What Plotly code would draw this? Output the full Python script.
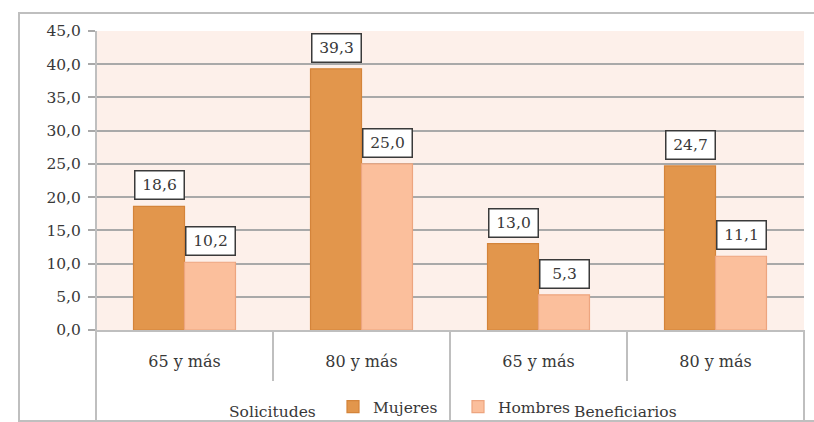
import plotly.graph_objects as go

groups = ["Solicitudes", "Beneficiarios"]
age_labels = ["65 y más", "80 y más", "65 y más", "80 y más"]
mujeres = [18.6, 39.3, 13.0, 24.7]
hombres = [10.2, 25.0, 5.3, 11.1]
y_ticks = [0, 5, 10, 15, 20, 25, 30, 35, 40, 45]

FONT = "DejaVu Serif"
C_MUJ = "#E2964C"
C_MUJ_LINE = "#D4843A"
C_HOM = "#FBBF9C"
C_HOM_LINE = "#EDA57F"
GRID = "#A9A9A9"
BORDER = "#BFBFBF"
TXT = "#383838"

def fmt(v):
    return f"{v:.1f}".replace(".", ",")

xpos = list(range(len(age_labels)))

fig = go.Figure()
fig.add_trace(go.Bar(x=xpos, y=mujeres, name="Mujeres",
                     marker=dict(color=C_MUJ, line=dict(color=C_MUJ_LINE, width=1.2))))
fig.add_trace(go.Bar(x=xpos, y=hombres, name="Hombres",
                     marker=dict(color=C_HOM, line=dict(color=C_HOM_LINE, width=1.2))))

annotations = []
for series, shift in ((mujeres, -25.5), (hombres, 25.5)):
    for i, v in enumerate(series):
        annotations.append(dict(
            x=i, y=v, xref="x", yref="y", xshift=shift, yshift=6,
            yanchor="bottom", text=fmt(v), showarrow=False,
            font=dict(family=FONT, size=15.5, color=TXT),
            bgcolor="white", bordercolor="#3a3a3a", borderwidth=1.5,
            borderpad=3, width=42, height=21))

def px_x(p):
    return (p - 96) / 708.0

def px_y(p):
    return (330 - p) / 299.0

annotations.append(dict(x=px_x(272), y=px_y(412), xref="paper", yref="paper",
                        text=groups[0], showarrow=False, xanchor="center", yanchor="middle",
                        font=dict(family=FONT, size=15.5, color=TXT)))
annotations.append(dict(x=px_x(625), y=px_y(412), xref="paper", yref="paper",
                        text=groups[1], showarrow=False, xanchor="center", yanchor="middle",
                        font=dict(family=FONT, size=15.5, color=TXT)))

bottom = px_y(421)
shapes = [
    # outer chart border
    dict(type="rect", xref="paper", yref="paper", x0=px_x(19), x1=px_x(830),
         y0=bottom, y1=px_y(13), line=dict(color=BORDER, width=2), layer="below"),
    # left vertical line of plot / category area
    dict(type="line", xref="paper", yref="paper", x0=0, x1=0, y0=bottom, y1=1,
         line=dict(color=BORDER, width=2)),
    # right line of category area
    dict(type="line", xref="paper", yref="paper", x0=1, x1=1, y0=bottom, y1=0,
         line=dict(color=BORDER, width=2)),
    # dividers
    dict(type="line", xref="paper", yref="paper", x0=0.25, x1=0.25, y0=px_y(381), y1=0,
         line=dict(color=BORDER, width=2)),
    dict(type="line", xref="paper", yref="paper", x0=0.5, x1=0.5, y0=bottom, y1=0,
         line=dict(color=BORDER, width=2)),
    dict(type="line", xref="paper", yref="paper", x0=0.75, x1=0.75, y0=px_y(381), y1=0,
         line=dict(color=BORDER, width=2)),
]

fig.update_layout(
    width=814, height=422,
    margin=dict(l=96, r=10, t=31, b=92),
    paper_bgcolor="white",
    plot_bgcolor="#FDF0EA",
    barmode="group",
    bargap=0.424, bargroupgap=0,
    font=dict(family=FONT, size=15, color=TXT),
    showlegend=True,
    legend=dict(orientation="h", xref="container", yref="container",
                x=333 / 814, y=(422 - 407) / 422, xanchor="left", yanchor="middle",
                font=dict(family=FONT, size=15.5, color=TXT),
                entrywidth=80, entrywidthmode="pixels",
                bgcolor="rgba(0,0,0,0)", itemwidth=30),
    xaxis=dict(range=[-0.5, 3.5], tickvals=xpos, ticktext=age_labels,
               showgrid=False, zeroline=False, showline=True, linecolor=BORDER,
               linewidth=2, ticks="", ticklabelstandoff=16,
               tickfont=dict(family=FONT, size=16, color=TXT)),
    yaxis=dict(range=[0, 45], tickvals=y_ticks, ticktext=[fmt(v) for v in y_ticks],
               showgrid=True, gridcolor=GRID, gridwidth=1.5, zeroline=False,
               showline=False, ticks="outside", ticklen=7, tickcolor=GRID, tickwidth=1.5,
               ticklabelstandoff=4,
               tickfont=dict(family=FONT, size=15.5, color=TXT)),
    annotations=annotations,
    shapes=shapes,
)

fig.write_html("out.html", config={"displayModeBar": False},
               post_script="document.body.style.margin='0';")
